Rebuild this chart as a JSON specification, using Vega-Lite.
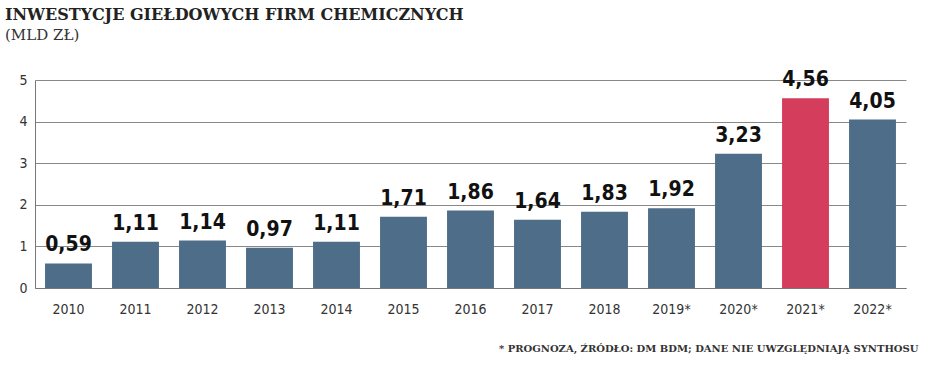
{
  "$schema": "https://vega.github.io/schema/vega-lite/v6.json",
  "autosize": "none",
  "width": 871,
  "height": 208,
  "padding": {"left": 35, "top": 80, "right": 42, "bottom": 87},
  "background": "white",
  "config": {
    "locale": {"number": {"decimal": ",", "thousands": " ", "grouping": [3], "currency": ["", " zł"]}},
    "view": {"stroke": null}
  },
  "title": {
    "text": "INWESTYCJE GIEŁDOWYCH FIRM CHEMICZNYCH",
    "subtitle": "(MLD ZŁ)",
    "anchor": "start",
    "frame": "group",
    "dx": -30,
    "offset": 26,
    "font": "DejaVu Serif",
    "fontSize": 16,
    "fontWeight": "bold",
    "color": "#222222",
    "subtitleFont": "DejaVu Serif",
    "subtitleFontSize": 15,
    "subtitleColor": "#333333",
    "subtitlePadding": 5
  },
  "data": {
    "values": [
      {"year": "2010", "value": 0.59, "type": "a"},
      {"year": "2011", "value": 1.11, "type": "a"},
      {"year": "2012", "value": 1.14, "type": "a"},
      {"year": "2013", "value": 0.97, "type": "a"},
      {"year": "2014", "value": 1.11, "type": "a"},
      {"year": "2015", "value": 1.71, "type": "a"},
      {"year": "2016", "value": 1.86, "type": "a"},
      {"year": "2017", "value": 1.64, "type": "a"},
      {"year": "2018", "value": 1.83, "type": "a"},
      {"year": "2019*", "value": 1.92, "type": "a"},
      {"year": "2020*", "value": 3.23, "type": "a"},
      {"year": "2021*", "value": 4.56, "type": "b"},
      {"year": "2022*", "value": 4.05, "type": "a"}
    ]
  },
  "encoding": {
    "x": {
      "field": "year",
      "type": "nominal",
      "sort": null,
      "scale": {"paddingInner": 0.3, "paddingOuter": 0.15},
      "axis": {
        "labelAngle": 0,
        "labelFont": "'DejaVu Sans Condensed', 'DejaVu Sans', sans-serif",
        "labelFontSize": 14,
        "labelColor": "#333333",
        "labelPadding": 14,
        "ticks": false,
        "domain": true,
        "domainColor": "#777777",
        "title": "* PROGNOZA, ŹRÓDŁO: DM BDM; DANE NIE UWZGLĘDNIAJĄ SYNTHOSU",
        "titleFont": "DejaVu Serif",
        "titleFontSize": 10,
        "titleFontWeight": "bold",
        "titleColor": "#333333",
        "titleAnchor": "end",
        "titleAlign": "right",
        "titleX": 883,
        "titleY": 55
      }
    },
    "y": {
      "field": "value",
      "type": "quantitative",
      "scale": {"domain": [0, 5], "nice": false},
      "axis": {
        "values": [0, 1, 2, 3, 4, 5],
        "title": null,
        "ticks": false,
        "domain": true,
        "domainColor": "#777777",
        "grid": true,
        "gridColor": "#888888",
        "gridWidth": 1,
        "labelFont": "'DejaVu Sans Condensed', 'DejaVu Sans', sans-serif",
        "labelFontSize": 14,
        "labelColor": "#333333",
        "labelPadding": 8
      }
    }
  },
  "layer": [
    {
      "mark": {"type": "bar"},
      "encoding": {
        "color": {
          "field": "type",
          "type": "nominal",
          "scale": {"domain": ["a", "b"], "range": ["#4e6d89", "#d43d5c"]},
          "legend": null
        }
      }
    },
    {
      "mark": {
        "type": "text",
        "baseline": "bottom",
        "dy": -8,
        "font": "'DejaVu Sans Condensed', 'DejaVu Sans', sans-serif",
        "fontSize": 21,
        "fontWeight": "bold",
        "color": "#111111"
      },
      "encoding": {
        "text": {"field": "value", "type": "quantitative", "format": ".2f"}
      }
    }
  ]
}
